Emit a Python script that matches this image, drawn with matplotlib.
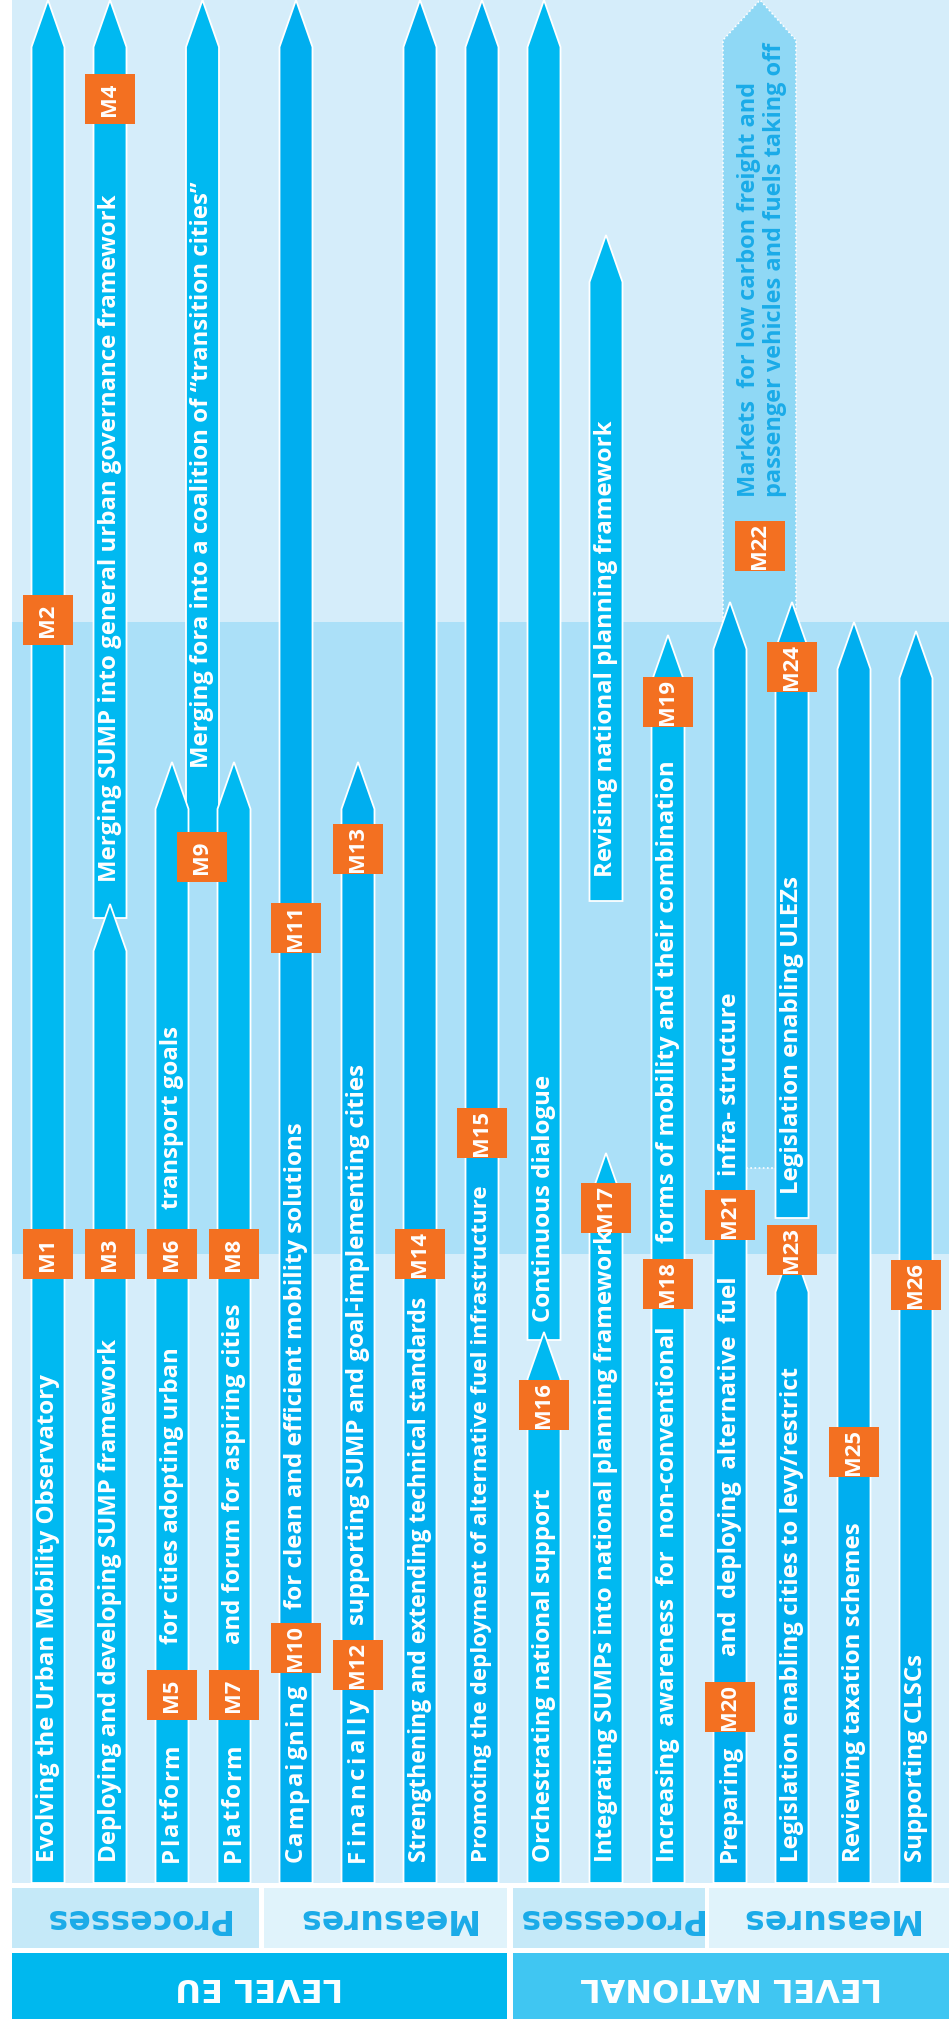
import matplotlib
matplotlib.use("Agg")
import matplotlib.pyplot as plt
from matplotlib.patches import Polygon, Rectangle

# --- labels on the bars (text, column centre x, y where text starts) ---
bar_texts = [
    "Evolving the Urban Mobility Observatory",
    "Deploying and developing SUMP framework",
    "Merging SUMP into general urban governance framework",
    "for cities adopting urban", "transport goals",
    "Merging fora into a coalition of \u201ctransition cities\u201d",
    "and forum for aspiring cities",
    "for clean and efficient mobility solutions",
    "supporting SUMP and goal-implementing cities",
    "Strengthening and extending technical standards",
    "Promoting the deployment of alternative fuel infrastructure",
    "Orchestrating national support", "Continuous dialogue",
    "Integrating SUMPs into national planning framework",
    "Revising national planning framework",
    "Increasing  awareness  for  non-conventional",
    "forms of mobility and their combination",
    "Preparing", "and  deploying  alternative  fuel", "infra- structure",
    "Legislation enabling cities to levy/restrict",
    "Legislation enabling ULEZs",
    "Reviewing taxation schemes",
    "Supporting CLSCs",
]
text_x = [48, 110, 110, 172, 172, 202.5, 234, 296, 358,
          420, 482, 544, 544, 606, 606, 668, 668, 730, 730, 730, 792, 792,
          854, 916]
text_y = [1862, 1862, 882, 1644, 1209, 768, 1644, 1609,
          1625, 1862, 1862, 1862, 1322, 1862, 877, 1862, 1243, 1862,
          1656, 1176, 1862, 1194, 1862, 1862]

# letter-spaced words at the foot of some bars: word, x, start y, length
spaced_words = ["Platform", "Platform", "Campaigning", "Financially"]
spaced_x = [172, 234, 296, 358]
spaced_y = [1862, 1862, 1862, 1862]
spaced_len = [118, 118, 177, 163]

# --- orange measure tags ---
tags = ["M1", "M2", "M3", "M4", "M5", "M6", "M7", "M8", "M9", "M10", "M11",
        "M12", "M13", "M14", "M15", "M16", "M17", "M18", "M19", "M20", "M21",
        "M22", "M23", "M24", "M25", "M26"]
tag_x = [48, 48, 110, 110, 172, 172, 234, 234, 202, 296, 296, 358, 358, 420,
         482, 544, 606, 668, 668, 730, 730, 760, 792, 792, 854, 916]
tag_y = [1254, 620, 1254, 99, 1695, 1254, 1695, 1254, 857, 1648, 928, 1665,
         849, 1254, 1133, 1405, 1208, 1284, 702, 1707, 1215, 546, 1250, 667,
         1452, 1285]

# --- arrows: centre x, bottom y, tip y, type ---
arrow_x = [48, 110, 110, 202.5, 172, 234, 296, 358, 420, 482, 544, 544,
           606, 606, 668, 730, 792, 792, 854, 916]
arrow_bottom = [1883, 918, 1883, 860, 1883, 1883, 1883, 1883, 1883, 1883,
                1340, 1883, 901, 1883, 1883, 1883, 1218, 1883, 1883, 1883]
arrow_tip = [0, 0, 904, 0, 762, 762, 0, 762, 0, 0, 0, 1332, 235, 1153, 635,
             602, 602, 1245, 622, 631]
arrow_kind = ["P", "P", "P", "P", "P", "P", "M", "M", "M", "M", "P", "P",
              "P", "P", "P", "M", "M", "M", "M", "M"]

market_lines = ["Markets  for low carbon freight and",
                "passenger vehicles and fuels taking off"]

sections = ["Processes", "Measures", "Processes", "Measures"]
section_x0 = [12, 264, 513, 709]
section_x1 = [259, 507, 705, 949]
levels = ["LEVEL EU", "LEVEL NATIONAL"]
level_x0 = [12, 513]
level_x1 = [507, 949]

BG = "#d5edfa"
BAND = "#abe0f8"
PROC = "#00b9f1"
MEAS = "#00aeef"
ORANGE = "#f37021"
TXTBLUE = "#1aabe8"

W = 949
H = 2026
fig = plt.figure(figsize=(W / 100, H / 100), dpi=100)
ax = fig.add_axes([0, 0, 1, 1])
ax.set_xlim(0, W)
ax.set_ylim(H, 0)
ax.axis("off")
renderer = fig.canvas.get_renderer()

px = 0.72  # points per pixel at dpi 100
half = 16.5
head = 47
sans = ["Open Sans", "DejaVu Sans"]
bar_font = dict(color="white", fontsize=24 * px, fontweight="bold", family=sans)
# a couple of long labels are set tighter in the original
tight = {"Strengthening and extending technical standards": 23,
         "Promoting the deployment of alternative fuel infrastructure": 22.5}

ax.add_patch(Rectangle((12, 0), W - 12, 1883, color=BG, lw=0))
ax.add_patch(Rectangle((12, 622), W - 12, 1254 - 622, color=BAND, lw=0))

# M22 dotted "market" arrow sits behind the bars
mx0, mx1, mcx = 723, 796, 760
ax.add_patch(Polygon([(mx0, 1168), (mx0, 40), (mcx, 0), (mx1, 40), (mx1, 1168)],
                     closed=True, facecolor="#8fd8f5", edgecolor="white",
                     lw=1.2, ls=(0, (1, 1.5))))
for i, line in enumerate(market_lines):
    ax.text(749 + 26 * i, 497, line, rotation=90, rotation_mode="anchor",
            ha="left", va="center", color=TXTBLUE, fontsize=23.5 * px,
            fontweight="bold", family=sans)


def arrow(cx, yb, yt, kind):
    x0, x1 = cx - half, cx + half
    pts = [(x0, yb), (x0, yt + head), (cx, yt), (x1, yt + head), (x1, yb)]
    ax.add_patch(Polygon(pts, closed=True, lw=1.3, edgecolor="white",
                         facecolor=PROC if kind == "P" else MEAS))


for cx, yb, yt, k in zip(arrow_x, arrow_bottom, arrow_tip, arrow_kind):
    arrow(cx, yb, yt, k)

for s, x, y in zip(bar_texts, text_x, text_y):
    kw = dict(bar_font, fontsize=tight.get(s, 24) * px)
    ax.text(x, y, s, rotation=90, rotation_mode="anchor", ha="left",
            va="center", **kw)

# letter-spaced words: measure each glyph, spread the rest evenly
for word, x, y, length in zip(spaced_words, spaced_x, spaced_y, spaced_len):
    widths = []
    for ch in word:
        t = ax.text(0, 0, ch, **bar_font)
        widths.append(t.get_window_extent(renderer).width)
        t.remove()
    gap = (length - sum(widths)) / (len(word) - 1)
    pos = y
    for ch, w in zip(word, widths):
        ax.text(x, pos, ch, rotation=90, rotation_mode="anchor", ha="left",
                va="center", **bar_font)
        pos -= w + gap

for t, x, y in zip(tags, tag_x, tag_y):
    ax.add_patch(Rectangle((x - 25, y - 25), 50, 50, color=ORANGE, lw=0))
    ax.text(x, y, t, rotation=90, ha="center", va="center", color="white",
            fontsize=22 * px, fontweight="bold", family=sans)

# bottom header rows (upside down)
narrow = ["Liberation Sans Narrow", "DejaVu Sans"]
for s, a, b in zip(sections, section_x0, section_x1):
    ax.add_patch(Rectangle((a, 1888), b - a, 60,
                           color="#c5e9f8" if s == "Processes" else "#e0f3fb", lw=0))
    ax.text((a + b) / 2, 1918, s, rotation=180, ha="center", va="center",
            color=TXTBLUE, fontsize=33 * px, fontweight="bold", family=narrow)
for i, (s, a, b) in enumerate(zip(levels, level_x0, level_x1)):
    ax.add_patch(Rectangle((a, 1953), b - a, 66,
                           color="#00b8ee" if i == 0 else "#40c6f2", lw=0))
    ax.text((a + b) / 2, 1986, s, rotation=180, ha="center", va="center",
            color="white", fontsize=32 * px, fontweight="bold", family=narrow)

fig.savefig("out.png", dpi=100)
